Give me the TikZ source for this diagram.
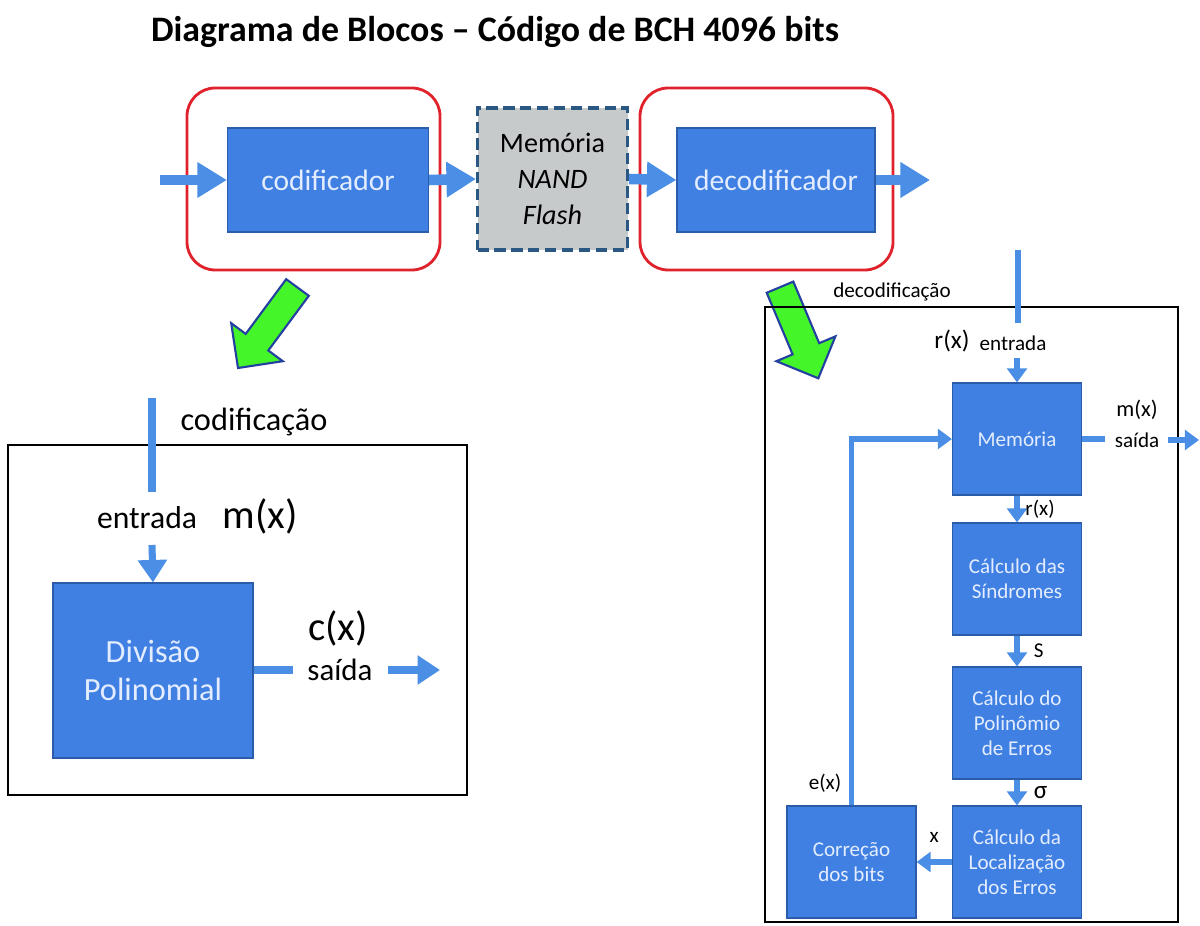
\documentclass[tikz,border=0pt]{standalone}
\usepackage{fontspec}
\setmainfont{Carlito}
\usepackage{tikz}
\usetikzlibrary{arrows.meta, positioning, calc}
\definecolor{BlockBlue}{HTML}{3F80E2}
\definecolor{BlockEdge}{HTML}{2A5CAA}
\definecolor{FlowBlue}{HTML}{4A8EE6}
\definecolor{PaleText}{HTML}{E4EDFF}
\definecolor{FlashGray}{HTML}{C6CACB}
\definecolor{DashBlue}{HTML}{2B5783}
\definecolor{RingRed}{HTML}{E0222C}
\definecolor{HintGreen}{HTML}{44F52A}
\definecolor{HintEdge}{HTML}{2440A0}
\newcommand{\px}[1]{#1*0.025cm}
\newcommand{\fs}[2]{\fontsize{#1}{#2}\selectfont}
\tikzset{
  block/.style={draw=BlockEdge, line width=0.8pt, fill=BlockBlue, text=PaleText,
                align=center, inner sep=0pt},
  ring/.style={draw=RingRed, line width=2pt, rounded corners=20pt, inner sep=0pt},
  bigflow/.style={draw=FlowBlue, line width=7.5pt, -{Triangle[length=21pt, width=24pt]}},
  midflow/.style={draw=FlowBlue, line width=5pt, -{Triangle[length=16pt, width=20pt]}},
  thinflow/.style={draw=FlowBlue, line width=4pt, -{Triangle[length=10pt, width=14pt]}},
  hint/.style={fill=HintGreen, draw=HintEdge, line width=1.5pt, line join=miter},
  panel/.style={draw=black, line width=2pt},
  tag/.style={inner sep=0pt, text=black},
}
\begin{document}
\begin{tikzpicture}[x=0.025cm, y=-0.025cm]
    \useasboundingbox (0,0) rectangle (1200,925);

    % Title
    \node[tag, font=\fs{25.5}{30}\bfseries] (title) at (495,32)
        {Diagrama de Blocos -- Código de BCH 4096 bits};

    % Top chain
    \node[ring, minimum width=\px{253}, minimum height=\px{182}] (codring) at (313.5,179) {};
    \node[ring, minimum width=\px{253}, minimum height=\px{182}] (decring) at (766.5,179) {};
    \node[block, minimum width=\px{201}, minimum height=\px{104}, font=\fs{21}{25}] (cod) at (328,180) {codificador};
    \node[draw=DashBlue, dash pattern=on 8pt off 4pt, line width=2.2pt, fill=FlashGray, align=center,
          inner sep=0pt, minimum width=\px{150}, minimum height=\px{142}, font=\fs{20}{25.5}] (nand) at (552.5,179)
        {Memória\\\textit{NAND}\\\textit{Flash}};
    \node[block, minimum width=\px{198}, minimum height=\px{104}, font=\fs{21}{25}] (dec) at (776,180) {decodificador};

    \coordinate (chainin) at (160,180);
    \coordinate (chainout) at (930,180);
    \draw[bigflow] (chainin) -- (cod.west);
    \draw[bigflow] (cod.east) -- (nand.west);
    \draw[bigflow] (nand.east) -- (dec.west);
    \draw[bigflow] (dec.east) -- (chainout);

    % Green pointers
    \draw[hint] (286.2,279.2) -- (245.7,333.9) -- (231.2,323.2) -- (238,368)
        -- (282.8,361.2) -- (268.3,350.5) -- (308.8,295.8) -- cycle;
    \draw[hint] (766.7,292.8) -- (793.3,281.6) -- (819.2,343.2) -- (835.4,336.4)
        -- (818.3,378.3) -- (776.4,361.2) -- (792.6,354.4) -- cycle;

    % Encoder detail
    \draw[panel] (8,445) rectangle (467,795);
    \node[tag, font=\fs{23}{27}] (codlbl) at (254,422) {codificação};
    \coordinate (encin) at (152,398);
    \coordinate (encstub) at (152,492);
    \draw[FlowBlue, line width=5pt] (encin) -- (encstub);
    \node[tag, font=\fs{22.5}{27}] (encent) at (147,518) {entrada};
    \node[tag, font=\fs{29}{34}] (encmx) at (260,516) {m(x)};
    \node[block, minimum width=\px{200}, minimum height=\px{175}, font=\fs{23}{27}] (div) at (153,670.5)
        {Divisão\\Polinomial};
    \coordinate (divin) at (152,545);
    \draw[midflow] (divin) -- (div.north);
    \coordinate (divstub) at (293,670);
    \draw[FlowBlue, line width=5pt] (div.east |- divstub) -- (divstub);
    \node[tag, font=\fs{29}{34}] (enccx) at (338,628) {c(x)};
    \node[tag, font=\fs{22}{26}] (encsai) at (340,670) {saída};
    \coordinate (encoa) at (388,670);
    \coordinate (encob) at (440,670);
    \draw[midflow] (encoa) -- (encob);

    % Decoder detail
    \draw[panel] (765,307) rectangle (1178,922);
    \node[tag, font=\fs{15}{18}] (declbl) at (892,292) {decodificação};
    \coordinate (decin) at (1018,250);
    \coordinate (decstub) at (1018,323);
    \draw[FlowBlue, line width=4pt] (decin) -- (decstub);
    \node[tag, font=\fs{18}{21}] (decrx) at (952,341) {r(x)};
    \node[tag, font=\fs{15}{18}] (decent) at (1013,343) {entrada};

    \node[block, minimum width=\px{129}, minimum height=\px{112}, font=\fs{15}{17.8}] (mem) at (1017,439) {Memória};
    \node[block, minimum width=\px{129}, minimum height=\px{112}, font=\fs{15}{17.8}] (sind) at (1017,579)
        {Cálculo das\\Síndromes};
    \node[block, minimum width=\px{129}, minimum height=\px{112}, font=\fs{15}{17.8}] (poly) at (1017,723)
        {Cálculo do\\Polinômio\\de Erros};
    \node[block, minimum width=\px{129}, minimum height=\px{112}, font=\fs{15}{17.8}] (loc) at (1017,862)
        {Cálculo da\\Localização\\dos Erros};
    \node[block, minimum width=\px{129}, minimum height=\px{112}, font=\fs{15}{17.8}] (corr) at (851.5,862)
        {Correção\\dos bits};

    \coordinate (memin) at (1017,358);
    \draw[thinflow] (memin) -- (mem.north);
    \draw[thinflow] (mem.south) -- (sind.north) node[tag, midway, right=4pt, font=\fs{15}{18}] {r(x)};
    \draw[thinflow] (sind.south) -- (poly.north) node[tag, midway, right=10pt, font=\fs{15}{18}] {S};
    \draw[thinflow] (poly.south) -- (loc.north) node[tag, midway, right=10pt, font=\fs{18}{21}] {σ};
    \draw[thinflow] (loc.west) -- (corr.east) node[tag, midway, above=12pt, font=\fs{15}{18}] {x};
    \draw[thinflow] (corr.north) |- (mem.west);
    \node[tag, font=\fs{15}{18}] (decex) at (825,783) {e(x)};

    \coordinate (memstub) at (1105,439);
    \draw[FlowBlue, line width=4pt] (mem.east) -- (memstub);
    \node[tag, font=\fs{16}{19}] (decmx) at (1137,410) {m(x)};
    \node[tag, font=\fs{15}{18}] (decsai) at (1137,440) {saída};
    \coordinate (decoa) at (1168,440);
    \coordinate (decob) at (1199,440);
    \draw[thinflow] (decoa) -- (decob);
\end{tikzpicture}
\end{document}
